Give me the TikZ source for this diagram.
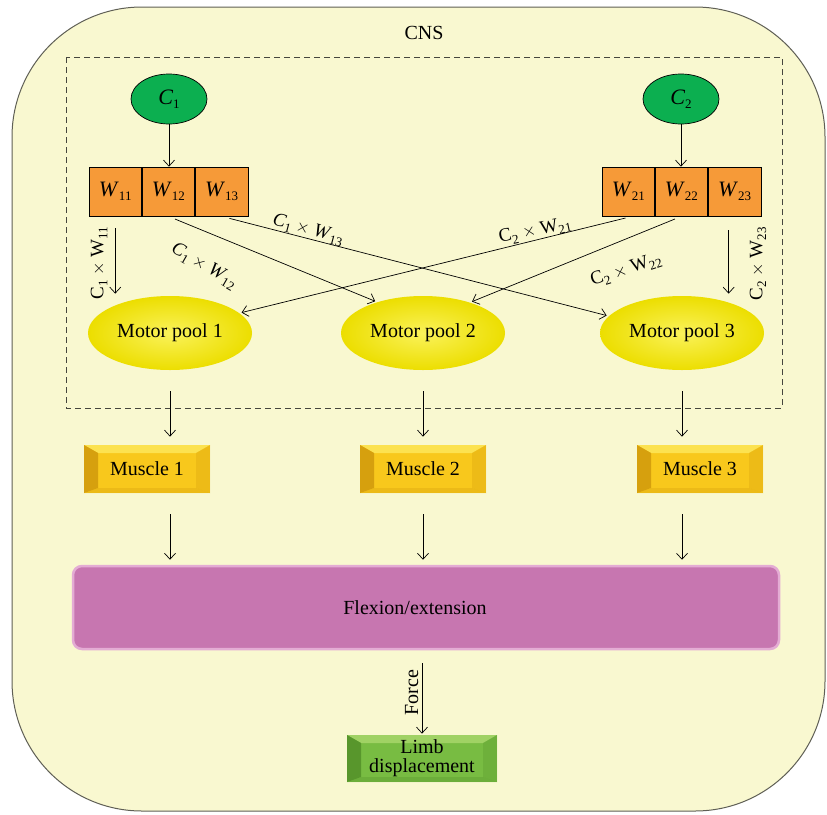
\documentclass[tikz,border=0pt]{standalone}
\usepackage{fontspec}
\setmainfont{Liberation Serif}
\usetikzlibrary{arrows.meta, positioning, shapes.geometric}
\definecolor{cnsbg}{RGB}{249,248,208}
\definecolor{cnsline}{RGB}{95,95,85}
\definecolor{dashgray}{RGB}{70,70,62}
\definecolor{cgreen}{RGB}{12,175,80}
\definecolor{worange}{RGB}{246,154,56}
\definecolor{poolin}{RGB}{250,242,90}
\definecolor{poolout}{RGB}{236,222,0}
\definecolor{musclegold}{RGB}{248,200,28}
\definecolor{muscletop}{RGB}{252,226,80}
\definecolor{muscledark}{RGB}{214,160,14}
\definecolor{flexpink}{RGB}{199,118,176}
\definecolor{flexrim}{RGB}{228,172,212}
\definecolor{limbgreen}{RGB}{120,188,66}
\definecolor{limbtop}{RGB}{160,210,100}
\definecolor{limbdark}{RGB}{88,150,44}
\newcommand{\idx}[3][13]{\textit{#2}\raisebox{-.45ex}{\fontsize{#1}{#1}\selectfont #3}}
\newcommand{\udx}[3][13]{#2\raisebox{-.45ex}{\fontsize{#1}{#1}\selectfont #3}}

\begin{document}
\begin{tikzpicture}[x=1pt, y=-1pt, line width=0.7pt,
		>={Straight Barb[length=6pt,width=11pt]},
		txt/.style={font=\fontsize{20}{20}\selectfont},
		lbl/.style={font=\fontsize{19}{19}\selectfont, inner sep=1pt},
		cnode/.style={ellipse, draw=black, fill=cgreen, minimum width=76pt, minimum height=50pt, inner sep=0pt, font=\fontsize{22}{22}\selectfont},
		wcell/.style={rectangle, draw=black, fill=worange, minimum width=52.5pt, minimum height=49pt, inner sep=0pt, font=\fontsize{22}{22}\selectfont},
		pool/.style={ellipse, inner color=poolin, outer color=poolout, minimum width=164pt, minimum height=74pt, inner sep=0pt, txt},
		bevel/.style n args={3}{fill=#1, path picture={
			\fill[#2] (path picture bounding box.north west) -- (path picture bounding box.north east)
				-- ([xshift=-14pt,yshift=-8pt]path picture bounding box.north east)
				-- ([xshift=14pt,yshift=-8pt]path picture bounding box.north west) -- cycle;
			\fill[#3] (path picture bounding box.north west) -- ([xshift=14pt,yshift=-8pt]path picture bounding box.north west)
				-- ([xshift=14pt,yshift=5pt]path picture bounding box.south west) -- (path picture bounding box.south west) -- cycle;
			\fill[#3, opacity=.3] (path picture bounding box.north east) -- ([xshift=-14pt,yshift=-8pt]path picture bounding box.north east)
				-- ([xshift=-14pt,yshift=5pt]path picture bounding box.south east) -- (path picture bounding box.south east) -- cycle;
			\fill[#3, opacity=.35] (path picture bounding box.south west) -- ([xshift=14pt,yshift=5pt]path picture bounding box.south west)
				-- ([xshift=-14pt,yshift=5pt]path picture bounding box.south east) -- (path picture bounding box.south east) -- cycle;}},
		muscle/.style={rectangle, bevel={musclegold}{muscletop}{muscledark}, minimum width=126pt, minimum height=48pt, inner sep=0pt, txt},
		flexbar/.style={rectangle, rounded corners=9pt, draw=flexrim, line width=2.5pt, fill=flexpink, minimum width=706pt, minimum height=83pt, txt},
		limb/.style={rectangle, bevel={limbgreen}{limbtop}{limbdark}, minimum width=150pt, minimum height=47pt, inner sep=0pt, align=center, font=\fontsize{20}{19}\selectfont}]
			\useasboundingbox (0,0) rectangle (827,814);
			\draw[fill=cnsbg, draw=cnsline, line width=1pt, rounded corners=130pt] (12,7) rectangle (825,811);
			\node[txt] (cns) at (424,33) {CNS};
			\draw[draw=dashgray, line width=1pt, dash pattern=on 6pt off 4pt] (66,57) rectangle (782,408);

			\node[cnode] (c1) at (169,99) {\idx{C}{1}};
			\node[cnode] (c2) at (681,99) {\idx{C}{2}};
			\node[wcell] (w11) at (115.25,191.5) {\idx{W}{11}};
			\node[wcell, right=0pt of w11] (w12) {\idx{W}{12}};
			\node[wcell, right=0pt of w12] (w13) {\idx{W}{13}};
			\node[wcell] (w21) at (628.25,191.5) {\idx{W}{21}};
			\node[wcell, right=0pt of w21] (w22) {\idx{W}{22}};
			\node[wcell, right=0pt of w22] (w23) {\idx{W}{23}};

			\node[pool] (mp1) at (170,333) {Motor pool 1};
			\node[pool] (mp2) at (423,333) {Motor pool 2};
			\node[pool] (mp3) at (682,333) {Motor pool 3};

			\node[muscle] (m1) at (147,469) {Muscle 1};
			\node[muscle] (m2) at (423,469) {Muscle 2};
			\node[muscle] (m3) at (700,469) {Muscle 3};

			\node[flexbar] (flex) at (426,607.5) {\hspace*{-22pt}Flexion/extension};
			\node[limb] (limb) at (422,758.5) {Limb\\displacement};

			\draw[->] (c1.south) -- (c1.south |- w12.north);
			\draw[->] (c2.south) -- (c2.south |- w22.north);

			\draw[->, shorten <=12pt, shorten >=2pt] (w11.south) -- (w11.south |- mp1.north);
			\draw[->, shorten <=7pt, shorten >=2pt] (w12.south) -- (mp2.146);
			\draw[->, shorten <=8pt, shorten >=2pt] (w13.south) -- (mp3.167);
			\draw[->, shorten <=7pt, shorten >=2pt] ([xshift=4pt]w21.south) -- (mp1.16);
			\draw[->, shorten <=7pt, shorten >=2pt] (w22.south) -- (mp2.33);
			\draw[->, shorten <=14pt, shorten >=2pt] ([xshift=-6pt]w23.south) -- ([xshift=-6pt]w23.south |- mp3.north);

			\node[lbl, rotate=90] (l11) at (99,263) {\udx{C}{1} $\times$ \udx{W}{11}};
			\node[lbl, rotate=-30] (l12) at (204,266) {\idx{C}{1} $\times$ \idx{W}{12}};
			\node[lbl, rotate=-15] (l13) at (308,230) {\idx{C}{1} $\times$ \idx{W}{13}};
			\node[lbl, rotate=12] (l21) at (535,231) {\udx{C}{2} $\times$ \udx{W}{21}};
			\node[lbl, rotate=18] (l22) at (626,270) {\udx{C}{2} $\times$ \udx{W}{22}};
			\node[lbl, rotate=90] (l23) at (758,264) {\udx{C}{2} $\times$ \udx{W}{23}};

			\foreach \p/\m in {mp1/m1, mp2/m2, mp3/m3}{
				\draw[->, shorten <=21pt, shorten >=8pt] (\p.south) -- (\p.south |- \m.north);
				\draw[->, shorten <=21pt, shorten >=5pt] (\p.south |- \m.south) -- (\p.south |- flex.north);
			}
			\draw[->, shorten <=13pt, shorten >=1pt] (limb.north |- flex.south) -- (limb.north)
				node[midway, rotate=90, above, txt] {Force};
		\end{tikzpicture}
\end{document}
